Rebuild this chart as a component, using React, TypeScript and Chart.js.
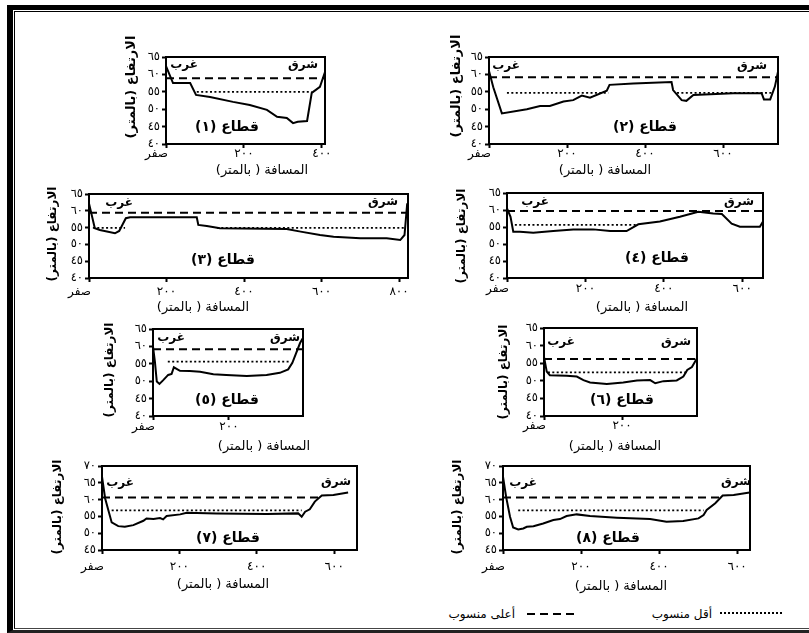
import React, { useEffect, useRef } from "react";
import { Chart, registerables } from "chart.js";
Chart.register(...registerables);

// ---------- text ----------
const xTickValues = [0, 200, 400, 600, 800];
const xTickText = ["صفر", "٢٠٠", "٤٠٠", "٦٠٠", "٨٠٠"];
const yTickValues = [40, 45, 50, 55, 60, 65, 70];
const yTickText = ["٤٠", "٤٥", "٥٠", "٥٥", "٦٠", "٦٥", "٧٠"];
const sectionTitles = ["قطاع (١)", "قطاع (٢)", "قطاع (٣)", "قطاع (٤)", "قطاع (٥)", "قطاع (٦)", "قطاع (٧)", "قطاع (٨)"];
const westLabel = "غرب";
const eastLabel = "شرق";
const yAxisTitle = "الارتفاع (بالمتر)";
const xAxisTitle = "المسافة ( بالمتر)";
const legendHigh = "أعلى منسوب";
const legendLow = "أقل منسوب";

// ---------- data (distance m, elevation m) ----------
const s1Dist = [0, 18, 62, 77, 113, 172, 215, 259, 285, 310, 326, 338, 362, 374, 395, 408];
const s1Elev = [62.4, 57.5, 57.5, 54.1, 53.5, 52.1, 51.2, 49.8, 47.8, 47.5, 46.0, 46.4, 46.6, 54.7, 56.4, 60.7];
const s1High = 58.9, s1HighSpan = [0, 408], s1Low = 55.0, s1LowSpans = [[79, 374]];

const s2Dist = [0, 11, 33, 97, 131, 156, 191, 216, 238, 259, 302, 309, 370, 468, 472, 494, 506, 524, 626, 699, 705, 721, 733, 741];
const s2Elev = [61.0, 56.3, 48.8, 50.0, 50.9, 50.9, 52.2, 52.6, 53.9, 53.3, 55.3, 57.0, 57.4, 57.8, 55.5, 52.6, 52.4, 54.1, 54.6, 54.6, 52.8, 52.8, 56.5, 60.8];
const s2High = 59.2, s2HighSpan = [0, 741], s2Low = 54.7, s2LowSpans = [[46, 306], [482, 728]];

const s3Dist = [0, 15, 28, 67, 78, 95, 106, 278, 282, 304, 338, 510, 546, 596, 631, 700, 725, 768, 803, 814, 821];
const s3Elev = [62.2, 54.8, 54.3, 53.3, 54.0, 57.8, 58.1, 58.1, 55.8, 55.5, 54.8, 54.6, 53.8, 52.8, 52.3, 51.8, 51.8, 51.8, 51.3, 52.8, 62.2];
const s3High = 59.4, s3HighSpan = [0, 823], s3Low = 54.9, s3LowSpans = [[10, 93], [330, 812]];

const s4Dist = [0, 9, 16, 33, 67, 118, 169, 220, 263, 305, 335, 390, 441, 488, 526, 548, 573, 594, 645, 653];
const s4Elev = [60.5, 58.0, 53.6, 53.6, 53.3, 53.8, 54.3, 54.3, 53.8, 53.8, 55.8, 56.6, 58.0, 59.5, 59.0, 58.8, 56.0, 55.1, 55.1, 56.6];
const s4High = 59.7, s4HighSpan = [0, 653], s4Low = 55.6, s4LowSpans = [[20, 332]];

const s5Dist = [0, 5, 10, 17, 27, 40, 49, 55, 71, 97, 124, 159, 193, 247, 299, 334, 356, 367, 387, 394];
const s5Elev = [59.9, 55.6, 49.9, 49.2, 50.3, 51.8, 52.1, 54.0, 53.0, 52.9, 52.7, 52.0, 51.8, 51.5, 51.8, 52.4, 53.4, 55.3, 60.9, 62.3];
const s5High = 59.2, s5HighSpan = [0, 395], s5Low = 55.6, s5LowSpans = [[39, 362]];

const s6Dist = [0, 7, 15, 58, 84, 101, 118, 161, 203, 238, 272, 285, 306, 340, 357, 367, 379, 392];
const s6Elev = [56.8, 52.6, 51.6, 51.4, 51.2, 50.2, 49.5, 49.1, 49.5, 50.1, 50.2, 49.3, 49.9, 50.1, 51.2, 53.1, 53.9, 56.4];
const s6High = 56.2, s6HighSpan = [0, 392], s6Low = 52.4, s6LowSpans = [[10, 369]];

const s7Dist = [0, 8, 25, 42, 59, 81, 107, 115, 133, 150, 158, 167, 202, 219, 296, 426, 507, 516, 525, 537, 550, 568, 598, 636];
const s7Elev = [66.8, 60.4, 53.2, 52.1, 51.9, 52.4, 53.7, 54.4, 54.2, 54.5, 54.1, 55.1, 55.6, 56.1, 55.9, 55.7, 55.9, 54.9, 56.4, 57.1, 59.4, 61.2, 61.4, 62.1];
const s7High = 60.6, s7HighSpan = [0, 568], s7Low = 56.8, s7LowSpans = [[25, 516]];

const s8Dist = [0, 8, 18, 26, 39, 52, 61, 78, 103, 129, 146, 163, 189, 223, 292, 377, 419, 462, 501, 514, 522, 544, 563, 591, 632];
const s8Elev = [66.8, 60.8, 54.9, 51.7, 51.1, 51.4, 51.9, 52.1, 52.9, 53.9, 54.2, 55.1, 55.6, 55.1, 54.6, 54.2, 53.4, 53.6, 54.4, 55.4, 56.9, 58.9, 61.2, 61.4, 62.1];
const s8High = 60.6, s8HighSpan = [0, 563], s8Low = 56.8, s8LowSpans = [[39, 514]];

const xMaxes = [408, 741, 823, 653, 395, 392, 659, 633];
const yRanges = [[40, 65], [40, 65], [40, 65], [40, 65], [40, 65], [40, 65], [45, 70], [45, 70]];

const sections = [
  { dist: s1Dist, elev: s1Elev, high: s1High, highSpan: s1HighSpan, low: s1Low, lowSpans: s1LowSpans },
  { dist: s2Dist, elev: s2Elev, high: s2High, highSpan: s2HighSpan, low: s2Low, lowSpans: s2LowSpans },
  { dist: s3Dist, elev: s3Elev, high: s3High, highSpan: s3HighSpan, low: s3Low, lowSpans: s3LowSpans },
  { dist: s4Dist, elev: s4Elev, high: s4High, highSpan: s4HighSpan, low: s4Low, lowSpans: s4LowSpans },
  { dist: s5Dist, elev: s5Elev, high: s5High, highSpan: s5HighSpan, low: s5Low, lowSpans: s5LowSpans },
  { dist: s6Dist, elev: s6Elev, high: s6High, highSpan: s6HighSpan, low: s6Low, lowSpans: s6LowSpans },
  { dist: s7Dist, elev: s7Elev, high: s7High, highSpan: s7HighSpan, low: s7Low, lowSpans: s7LowSpans },
  { dist: s8Dist, elev: s8Elev, high: s8High, highSpan: s8HighSpan, low: s8Low, lowSpans: s8LowSpans },
];

// ---------- layout (page px; text offsets relative to plot box top-left) ----------
const layouts = [
  { box: [166, 57, 325, 144], yT: [-34.5, 30], yTs: 13, xT: [96, 114], tT: [61, 70], w: [18, 8], e: [137, 8], pad: -1 },
  { box: [489, 57, 778, 144], yT: [-32, 29], yTs: 13, xT: [116, 114], tT: [156, 70], w: [17, 9], e: [263, 9], pad: -1 },
  { box: [89, 194, 408, 278], yT: [-36.5, 40], yTs: 12, xT: [114, 114], tT: [134, 66], w: [30, 9], e: [294, 8], pad: 3 },
  { box: [507, 193, 763, 278], yT: [-45, 43], yTs: 12, xT: [135, 115], tT: [150, 65], w: [28, 9], e: [232, 9], pad: 0 },
  { box: [153, 329, 303, 416], yT: [-43, 41], yTs: 12, xT: [111, 118], tT: [74, 71], w: [18, 9], e: [132, 9], pad: 0 },
  { box: [544, 328, 697, 416], yT: [-40, 44], yTs: 12, xT: [71, 119], tT: [78, 72], w: [17, 14], e: [132, 14], pad: -1 },
  { box: [102, 466, 357, 550], yT: [-44.5, 41], yTs: 12, xT: [121, 119], tT: [126, 72], w: [18, 17], e: [234, 16], pad: 6 },
  { box: [503, 466, 750, 550], yT: [-45.5, 41], yTs: 12, xT: [118, 121], tT: [105, 72], w: [20, 17], e: [233, 16], pad: 6 },
];

const FONT = "'DejaVu Sans', 'Liberation Sans', sans-serif";
const PL = 70, PT = 40, PR = 30, PB = 45;

function Section({ idx }: { idx: number }) {
  const ref = useRef<HTMLCanvasElement>(null);
  const lay = layouts[idx];
  const sec = sections[idx];
  const [l, t, r, b] = lay.box;
  const W = r - l + PL + PR;
  const H = b - t + PT + PB;

  useEffect(() => {
    const xMax = xMaxes[idx];
    const [yMin, yMax] = yRanges[idx];
    const line = { borderColor: "#000", pointRadius: 0, tension: 0, fill: false };
    const datasets: any[] = [
      { ...line, data: sec.dist.map((x, i) => ({ x, y: sec.elev[i] })), borderWidth: 2 },
      { ...line, data: sec.highSpan.map((x) => ({ x, y: sec.high })), borderWidth: 2, borderDash: [8, 5] },
      ...sec.lowSpans.map((sp) => ({ ...line, data: sp.map((x) => ({ x, y: sec.low })), borderWidth: 1.8, borderDash: [2, 2.4] })),
    ];
    const decor = {
      id: "decor",
      afterDraw(chart: any) {
        const { ctx, chartArea: ca } = chart;
        ctx.save();
        ctx.strokeStyle = "#000";
        ctx.lineWidth = 2;
        ctx.strokeRect(ca.left, ca.top, ca.right - ca.left, ca.bottom - ca.top);
        const txt = (s: string, p: number[], font: string, rot = false) => {
          ctx.save();
          ctx.translate(ca.left + p[0], ca.top + p[1]);
          if (rot) ctx.rotate(-Math.PI / 2);
          ctx.font = font;
          ctx.direction = "rtl";
          ctx.textAlign = "center";
          ctx.textBaseline = "middle";
          ctx.fillStyle = "#000";
          ctx.fillText(s, 0, 0);
          ctx.restore();
        };
        txt(sectionTitles[idx], lay.tT, `bold 14px ${FONT}`);
        txt(westLabel, lay.w, `bold 12px ${FONT}`);
        txt(eastLabel, lay.e, `bold 12px ${FONT}`);
        txt(xAxisTitle, lay.xT, `13px ${FONT}`);
        txt(yAxisTitle, lay.yT, `bold ${lay.yTs}px ${FONT}`, true);
        ctx.restore();
      },
    };
    const chart = new Chart(ref.current as HTMLCanvasElement, {
      type: "line",
      data: { datasets },
      options: {
        responsive: false,
        maintainAspectRatio: false,
        animation: false,
        devicePixelRatio: 1,
        layout: { padding: { left: 0, top: PT, right: PR, bottom: 0 } },
        plugins: { legend: { display: false }, tooltip: { enabled: false } },
        scales: {
          x: {
            type: "linear",
            min: 0,
            max: xMax,
            afterFit: (s: any) => { s.height = PB; },
            afterBuildTicks: (s: any) => {
              s.ticks = xTickValues.filter((v) => v <= xMax).map((v) => ({ value: v }));
            },
            ticks: {
              color: "#000",
              font: { family: FONT, size: 12 },
              padding: lay.pad,
              maxRotation: 0,
              autoSkip: false,
              callback: (v: any) => {
                const i = xTickValues.indexOf(Number(v));
                if (i < 0) return "";
                return i === 0 ? xTickText[0] + "\u00A0\u00A0\u00A0\u00A0\u00A0" : xTickText[i];
              },
            },
            grid: { drawOnChartArea: false, drawTicks: true, tickLength: 4, tickWidth: 2, tickColor: "#000", color: "#000" },
            border: { display: false },
          },
          y: {
            min: yMin,
            max: yMax,
            afterFit: (s: any) => { s.width = PL; },
            afterBuildTicks: (s: any) => {
              s.ticks = yTickValues.filter((v) => v >= yMin && v <= yMax).map((v) => ({ value: v }));
            },
            ticks: {
              autoSkip: false,
              color: "#000",
              font: { family: FONT, size: 11.5 },
              padding: 2,
              callback: (v: any) => {
                const i = yTickValues.indexOf(Number(v));
                return i < 0 ? "" : yTickText[i];
              },
            },
            grid: { drawOnChartArea: false, drawTicks: true, tickLength: 4, tickWidth: 2, tickColor: "#000", color: "#000" },
            border: { display: false },
          },
        },
      } as any,
      plugins: [decor],
    });
    return () => chart.destroy();
  }, []);

  return (
    <canvas
      ref={ref}
      width={W}
      height={H}
      style={{ position: "absolute", left: l - PL, top: t - PT, width: W, height: H }}
    />
  );
}

export default function App() {
  const legendText: React.CSSProperties = {
    position: "absolute",
    top: 605,
    fontFamily: FONT,
    fontSize: 12,
    lineHeight: "18px",
    direction: "rtl",
    whiteSpace: "nowrap",
    color: "#000",
  };
  const dash = (x: number) => (
    <div key={x} style={{ position: "absolute", left: x, top: 613, width: 8, height: 2, background: "#000" }} />
  );
  return (
    <div style={{ position: "absolute", left: 0, top: 0, width: 809, height: 633, background: "#fff", overflow: "hidden" }}>
      <div style={{ position: "absolute", left: 7, top: 5, width: 900, height: 628, boxSizing: "border-box", borderLeft: "6px solid #000", borderTop: "5px solid #000", borderBottom: "3px solid #222" }} />
      <div style={{ position: "absolute", left: 14, top: 11, width: 900, height: 618, boxSizing: "border-box", borderLeft: "1.5px solid #000", borderTop: "1.5px solid #000", borderBottom: "1px solid #444" }} />
      {layouts.map((_, i) => (
        <Section key={i} idx={i} />
      ))}
      <div style={{ ...legendText, right: 809 - 515 }}>{legendHigh}</div>
      {[527, 540, 553, 566].map(dash)}
      <div style={{ ...legendText, right: 809 - 712 }}>{legendLow}</div>
      <div style={{ position: "absolute", left: 720, top: 612, width: 62, height: 0, borderTop: "2px dotted #000" }} />
    </div>
  );
}
